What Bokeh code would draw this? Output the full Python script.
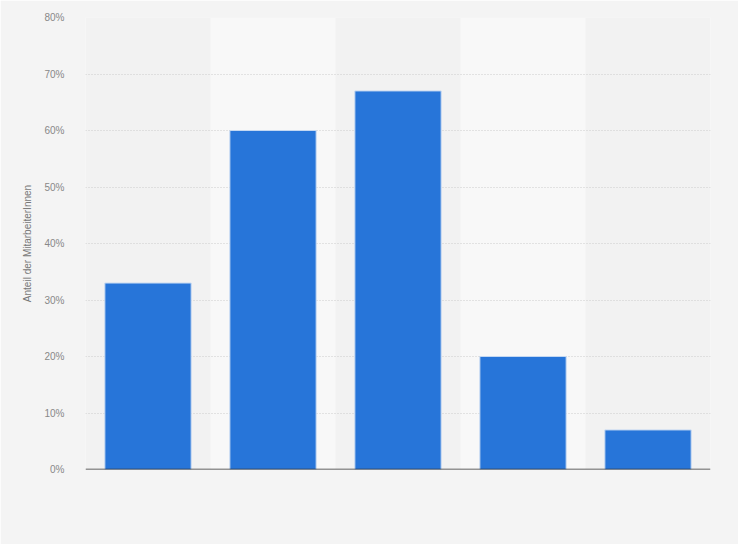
from bokeh.plotting import figure
from bokeh.embed import file_html
from bokeh.resources import INLINE
from bokeh.models import PrintfTickFormatter, FixedTicker, Range1d, Span

positions = [0, 1, 2, 3, 4]
values = [33, 60, 67, 20, 7]
band_positions = [1, 3]
y_ticks = [0, 10, 20, 30, 40, 50, 60, 70, 80]
y_label = "Anteil der MitarbeiterInnen"

BG = "#f4f4f4"
p = figure(width=738, height=544, output_backend="svg", toolbar_location=None,
           x_range=Range1d(-0.5, 4.5), y_range=Range1d(0, 80),
           min_border_left=85, min_border_right=28, min_border_top=17, min_border_bottom=75)
p.background_fill_color = "#f2f2f2"
p.border_fill_color = BG
p.outline_line_color = None

p.quad(left=[b - 0.5 for b in band_positions], right=[b + 0.5 for b in band_positions],
       bottom=0, top=80, fill_color="#f8f8f8", line_color=None, level="image")

p.vbar(x=positions, top=values, width=0.69, fill_color="#2775d9",
       line_color="#c4d8f2", line_width=1)

p.add_layout(Span(location=0, dimension="width", line_color="#333333", line_width=1.5))

p.xaxis.visible = False
p.xgrid.visible = False

p.yaxis.ticker = FixedTicker(ticks=y_ticks)
p.yaxis.formatter = PrintfTickFormatter(format="%d%%")
p.yaxis.axis_line_color = None
p.yaxis.major_tick_line_color = None
p.yaxis.minor_tick_line_color = None
p.yaxis.major_label_standoff = 15
p.yaxis.major_label_text_font = "Liberation Sans"
p.yaxis.major_label_text_font_size = "10px"
p.yaxis.major_label_text_color = "#888888"
p.yaxis.axis_label = y_label
p.yaxis.axis_label_text_font = "Liberation Sans"
p.yaxis.axis_label_text_font_size = "10px"
p.yaxis.axis_label_text_font_style = "normal"
p.yaxis.axis_label_text_color = "#777777"
p.yaxis.axis_label_standoff = 8

p.ygrid.grid_line_color = "#cccccc"
p.ygrid.grid_line_dash = "1 2"
p.ygrid.grid_line_width = 1

open("out.html", "w").write(file_html(p, INLINE))
